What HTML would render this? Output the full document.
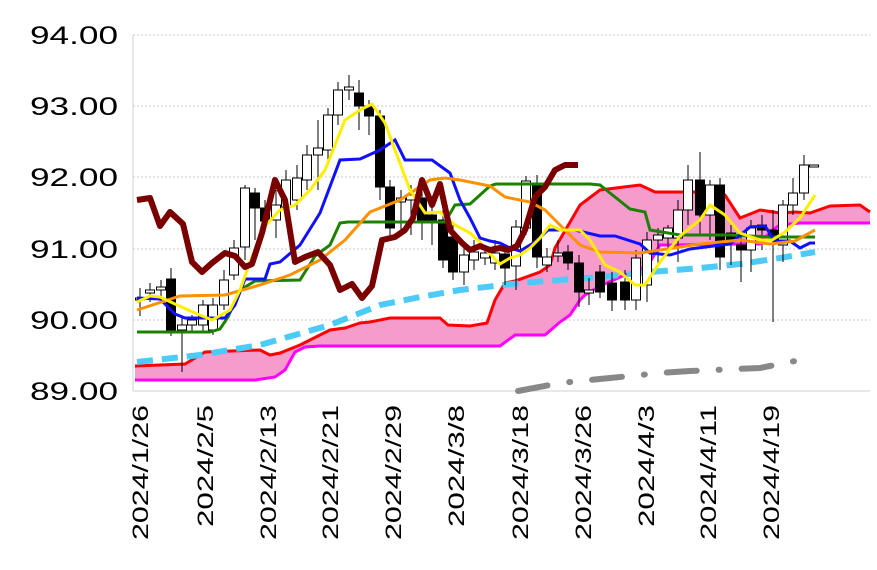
<!DOCTYPE html>
<html><head><style>body{margin:0;background:#fff}svg{display:block}</style></head><body>
<svg width="877" height="570" xmlns="http://www.w3.org/2000/svg" font-family="Liberation Sans, sans-serif">
<g stroke="#c8c8c8" stroke-dasharray="2,2" stroke-width="1">
<line x1="133" y1="35" x2="870" y2="35"/><line x1="133" y1="106" x2="870" y2="106"/><line x1="133" y1="177" x2="870" y2="177"/><line x1="133" y1="249" x2="870" y2="249"/><line x1="133" y1="320" x2="870" y2="320"/>
</g>
<line x1="133" y1="35" x2="133" y2="391" stroke="#d0d0d0"/>
<line x1="133" y1="391" x2="870" y2="391" stroke="#d0d0d0"/>
<g font-size="25" fill="#000" text-anchor="end">
<text x="118" y="44" textLength="88" lengthAdjust="spacingAndGlyphs">94.00</text><text x="118" y="115" textLength="88" lengthAdjust="spacingAndGlyphs">93.00</text><text x="118" y="186" textLength="88" lengthAdjust="spacingAndGlyphs">92.00</text><text x="118" y="258" textLength="88" lengthAdjust="spacingAndGlyphs">91.00</text><text x="118" y="329" textLength="88" lengthAdjust="spacingAndGlyphs">90.00</text><text x="118" y="400" textLength="88" lengthAdjust="spacingAndGlyphs">89.00</text>
</g>
<g font-size="22" fill="#000" text-anchor="end">
<text transform="translate(148,405) rotate(-90)" textLength="135" lengthAdjust="spacingAndGlyphs">2024/1/26</text>
<text transform="translate(213,405) rotate(-90)" textLength="122" lengthAdjust="spacingAndGlyphs">2024/2/5</text>
<text transform="translate(276,405) rotate(-90)" textLength="135" lengthAdjust="spacingAndGlyphs">2024/2/13</text>
<text transform="translate(338,405) rotate(-90)" textLength="135" lengthAdjust="spacingAndGlyphs">2024/2/21</text>
<text transform="translate(401,405) rotate(-90)" textLength="135" lengthAdjust="spacingAndGlyphs">2024/2/29</text>
<text transform="translate(464,405) rotate(-90)" textLength="122" lengthAdjust="spacingAndGlyphs">2024/3/8</text>
<text transform="translate(528,405) rotate(-90)" textLength="135" lengthAdjust="spacingAndGlyphs">2024/3/18</text>
<text transform="translate(591,405) rotate(-90)" textLength="135" lengthAdjust="spacingAndGlyphs">2024/3/26</text>
<text transform="translate(654,405) rotate(-90)" textLength="122" lengthAdjust="spacingAndGlyphs">2024/4/3</text>
<text transform="translate(716,405) rotate(-90)" textLength="135" lengthAdjust="spacingAndGlyphs">2024/4/11</text>
<text transform="translate(779,405) rotate(-90)" textLength="135" lengthAdjust="spacingAndGlyphs">2024/4/19</text>
</g>
<polygon fill="#f59ccc" points="135,366 185,364 205,352 260,350 270,355 280,353 300,345 330,330 345,328 360,323 370,322 390,318 440,318 448,325 470,326 487,323 495,300 505,283 515,281 540,272 550,265 555,248 580,205 600,190 640,185 655,192 695,192 725,195 740,218 760,210 780,213 795,212 810,213 830,206 860,205 870,212 870,223 800,223 780,225 770,232 760,244 660,245 650,262 640,270 625,275 600,286 585,295 580,300 570,315 560,322 545,335 515,335 500,346 320,346 305,347 295,352 285,370 275,377 255,380 135,380"/>
<polyline fill="none" stroke="#ff0000" stroke-width="3" points="135,366 185,364 205,352 260,350 270,355 280,353 300,345 330,330 345,328 360,323 370,322 390,318 440,318 448,325 470,326 487,323 495,300 505,283 515,281 540,272 550,265 555,248 580,205 600,190 640,185 655,192 695,192 725,195 740,218 760,210 780,213 795,212 810,213 830,206 860,205 870,212"/>
<polyline fill="none" stroke="#ff00ff" stroke-width="3" points="135,380 255,380 275,377 285,370 295,352 305,347 320,346 500,346 515,335 545,335 560,322 570,315 580,300 585,295 600,286 625,275 640,270 650,262 660,245 675,245 740,244 760,244 770,232 780,225 800,223 870,223"/>
<polyline fill="none" stroke="#888" stroke-width="6" stroke-linecap="round" stroke-dasharray="30,22,1,22" points="518,391 560,383 610,378 660,373 690,371 760,368 815,357"/>
<polyline fill="none" stroke="#4ccbf8" stroke-width="6" stroke-dasharray="16,9" points="137,362 200,355 260,345 330,325 380,305 420,297 460,290 520,283 600,277 650,272 700,268 740,264 780,258 815,252"/>
<g stroke="#000" stroke-width="1" id="c"></g>
<polyline fill="none" stroke="#1c8000" stroke-width="3" points="137,332 210,332 220,329 228,317 240,290 255,281 300,280 315,256 330,245 340,223 348,222 445,222 455,205 470,204 480,195 490,186 496,184 590,184 600,185 610,193 630,209 645,212 650,230 680,235 730,235 770,237 815,237"/>
<polyline fill="none" stroke="#1010ff" stroke-width="3" points="137,298 160,299 175,314 185,318 225,318 235,305 245,279 265,279 270,264 280,262 300,245 320,213 340,160 360,159 380,150 395,140 405,160 432,160 450,173 460,200 470,218 480,238 490,241 500,243 510,248 520,251 535,242 548,230 575,230 600,236 615,236 640,244 650,253 670,255 690,249 730,244 750,227 765,226 775,241 790,241 800,248 810,243 815,243"/>
<polyline fill="none" stroke="#ff9000" stroke-width="3" points="137,310 180,296 225,295 260,285 290,275 320,260 345,240 370,212 400,200 430,180 445,178 460,180 490,186 505,197 530,202 545,210 565,230 580,245 600,252 640,253 660,250 700,244 740,240 770,244 795,241 815,230"/>
<polyline fill="none" stroke="#ffee00" stroke-width="3" points="137,302 150,296 160,297 175,304 195,313 212,320 230,310 240,290 250,262 265,226 280,210 295,205 310,190 325,170 345,120 360,110 372,104 385,123 395,150 410,190 425,213 440,212 455,225 470,233 480,242 490,254 500,264 510,258 520,255 530,248 540,238 550,225 560,230 580,230 590,240 605,265 620,272 635,285 645,285 660,262 680,236 700,220 710,205 725,215 740,233 760,240 772,240 785,232 800,218 815,195"/>
<polyline fill="none" stroke="#7a0000" stroke-width="6" stroke-linejoin="round" points="137,200 150,198 160,226 170,212 183,224 192,262 202,272 212,263 225,253 235,256 245,267 252,264 262,233 275,180 285,200 295,262 305,257 318,252 330,265 340,290 352,284 362,298 372,286 382,240 395,237 405,230 413,218 422,180 432,205 440,184 450,230 462,243 470,250 480,246 490,250 500,248 508,250 517,246 525,230 535,197 545,187 555,170 565,165 578,165"/>
</svg>
<script>
var d=[[140,298,300,288,316,0],[150,290,293,283,302,0],[161,287,290,280,300,0],[171,279,330,268,336,1],[182,325,330,318,372,0],[192,320,325,315,332,0],[203,305,325,300,332,0],[213,305,330,298,335,0],[224,280,305,270,310,0],[234,248,275,240,280,0],[245,188,247,185,260,0],[255,193,208,188,240,1],[265,208,221,200,232,1],[276,205,220,190,238,0],[286,180,207,170,215,0],[297,178,200,165,210,0],[307,155,180,145,190,0],[318,148,155,120,190,0],[328,115,150,108,160,0],[338,90,115,82,125,0],[349,87,90,75,100,0],[359,93,106,80,130,1],[369,106,116,100,135,1],[380,116,187,110,200,1],[390,187,228,180,240,1],[401,198,202,190,230,0],[411,195,200,185,235,0],[422,198,222,190,240,1],[432,215,222,200,245,1],[443,220,260,210,268,1],[453,237,272,225,280,1],[464,255,272,245,285,0],[474,252,260,240,270,0],[485,253,258,245,265,0],[495,253,263,240,270,0],[505,254,268,245,285,1],[516,227,266,220,290,0],[526,181,228,176,235,0],[537,186,257,175,268,1],[547,257,265,248,272,0],[558,253,256,240,262,0],[568,252,263,245,270,1],[579,263,292,255,307,1],[589,290,293,278,305,0],[600,272,292,265,298,1],[612,283,300,272,311,1],[625,282,300,270,310,1],[636,258,300,250,310,0],[647,240,285,232,302,0],[658,235,240,228,265,0],[668,228,238,225,252,0],[678,210,238,200,262,0],[688,180,210,165,225,0],[700,180,215,152,235,1],[710,185,215,180,240,0],[720,185,257,178,270,1],[731,233,240,225,265,1],[741,245,250,235,282,1],[751,228,250,220,272,0],[762,225,230,215,250,1],[773,230,240,210,322,1],[783,205,245,200,262,0],[793,193,205,178,215,0],[804,165,193,155,200,0],[814,165,166,165,166,0]];
var g=document.getElementById('c'),s='';
d.forEach(function(a){var x=a[0];s+='<line x1="'+x+'" y1="'+a[3]+'" x2="'+x+'" y2="'+a[4]+'"/>';var t=Math.min(a[1],a[2]),h=Math.max(2,Math.abs(a[2]-a[1]));s+='<rect x="'+(x-4.5)+'" y="'+t+'" width="9" height="'+h+'" fill="'+(a[5]?'#000':'#fff')+'"/>';});
g.innerHTML=s;
</script>
</body></html>
